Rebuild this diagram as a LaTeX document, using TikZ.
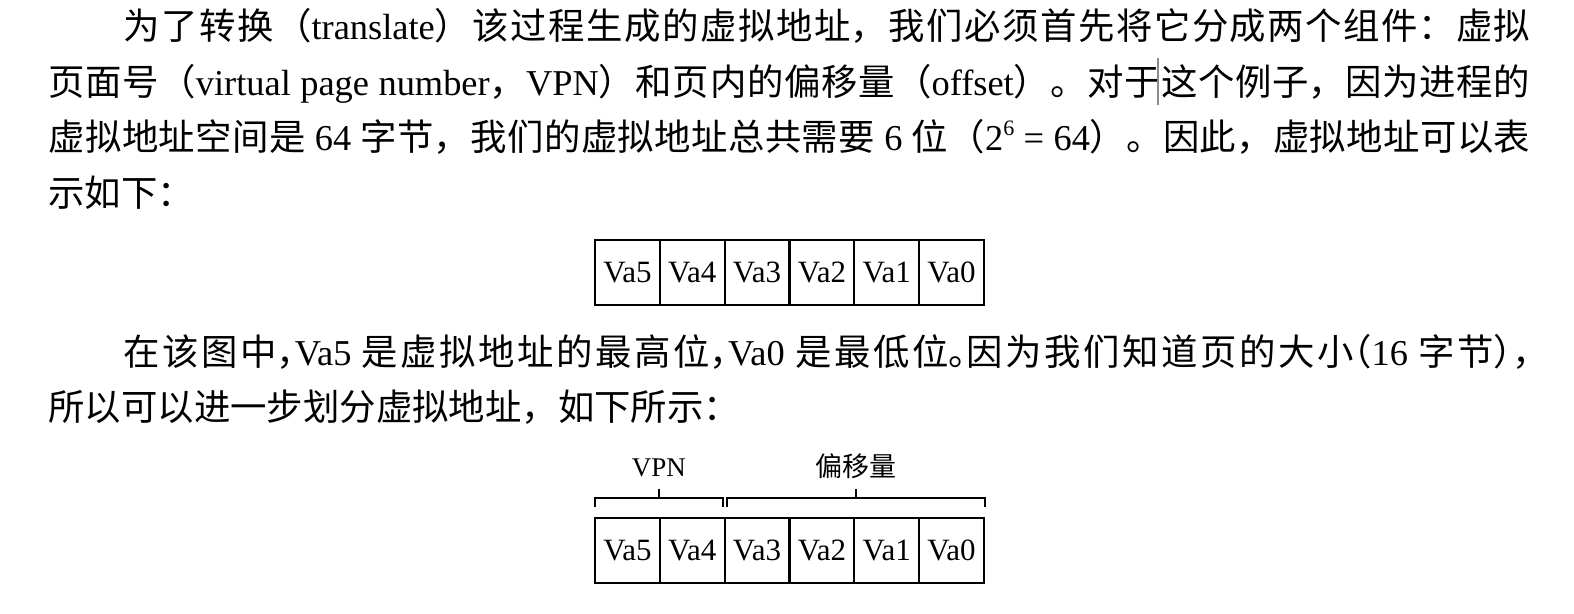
\documentclass[tikz,border=0pt]{standalone}
\usepackage{fontspec}
\setmainfont{Liberation Serif}
\newfontfamily\cjk{Noto Sans CJK SC}
\usetikzlibrary{calc}
\XeTeXlinebreaklocale "zh"
\XeTeXlinebreakskip=0pt plus 4pt
\newcommand\C[1]{{\cjk #1}}
\newcommand\hl[1]{\makebox[.5em][l]{#1}}
\newcommand\hr[1]{\makebox[.5em][r]{#1}}
\newcommand\supr[1]{\raisebox{0.42em}{\fontsize{11}{12}\selectfont #1}}
\newcommand\jline[2]{\parbox[b]{#1}{\tolerance=10000\parindent=0pt\parfillskip=0pt\relax #2}}
\tikzset{
  body/.style={anchor=base west, inner sep=0pt, font=\fontsize{18.2}{22}\selectfont},
  cell/.style={draw, line width=1pt, minimum width=32.42pt, minimum height=32.5pt, inner sep=0pt, font=\fontsize{15.5}{18}\selectfont},
  brk/.style={line width=0.9pt},
  lab/.style={anchor=base, inner sep=0pt, font=\fontsize{13.5}{16}\selectfont},
  cursorline/.style={draw=black!45, line width=0.6pt}
}
\begin{document}
\begin{tikzpicture}[x=0.5pt,y=-0.5pt]
\useasboundingbox (0,0) rectangle (1574,614);
\node[body] (l1) at (123,40) {\jline{703.5pt}{\C{为了转换（}translate\C{）该过程生成的虚拟地址，我们必须首先将它分成两个组件：虚拟}}};
\node[body] (l2) at (48,96) {\jline{741pt}{\C{页面号（}virtual page number\C{，}VPN\C{）和页内的偏移量（}offset\C{）。对于这个例子，因为进程的}}};
\node[body] (l3) at (48,151) {\jline{741pt}{\C{虚拟地址空间是} 64 \C{字节，我们的虚拟地址总共需要} 6 \C{位（}2\supr{6} = 64\C{）。因此，虚拟地址可以表}}};
\node[body] (l4) at (48,207) {\C{示如下：}};
\node[body] (l5) at (123,366) {\jline{703.5pt}{\C{在该图中\hl{，}}Va5 \C{是虚拟地址的最高位\hl{，}}Va0 \C{是最低位\hl{。}因为我们知道页的大小\hr{（}}16 \C{字节\hl{）}\hl{，}}}};
\node[body] (l6) at (48,421) {\C{所以可以进一步划分虚拟地址，如下所示：}};
\coordinate (curT) at (1158,58);
\coordinate (curB) at (1158,105);
\draw[cursorline] (curT) -- (curB);
\foreach \k/\lab in {0/5,1/4,2/3,3/2,4/1,5/0} {
  \node[cell] (a\lab) at ({595+64.83*(\k+0.5)},272.5) {Va\lab};
  \node[cell] (b\lab) at ({595+64.83*(\k+0.5)},550.5) {Va\lab};
}
\coordinate (vL) at ($(b5.north west)+(1,-10)$);
\coordinate (vR) at ($(b4.north east)+(-3,-10)$);
\coordinate (oL) at ($(b3.north west)+(3,-10)$);
\coordinate (oR) at ($(b0.north east)+(0,-10)$);
\draw[brk] (vL) -- ++(0,-9) -| (vR);
\draw[brk] (oL) -- ++(0,-9) -| (oR);
\coordinate (vM) at ($(vL)!0.5!(vR)+(0,-9)$);
\coordinate (oM) at ($(oL)!0.5!(oR)+(0,-9)$);
\draw[brk] (vM) -- ++(0,-9);
\draw[brk] (oM) -- ++(0,-9);
\node[lab] (vpn) at ($(vM)+(0,-22)$) {VPN};
\node[lab] (off) at ($(oM)+(0,-21)$) {\cjk 偏移量};
\end{tikzpicture}
\end{document}
